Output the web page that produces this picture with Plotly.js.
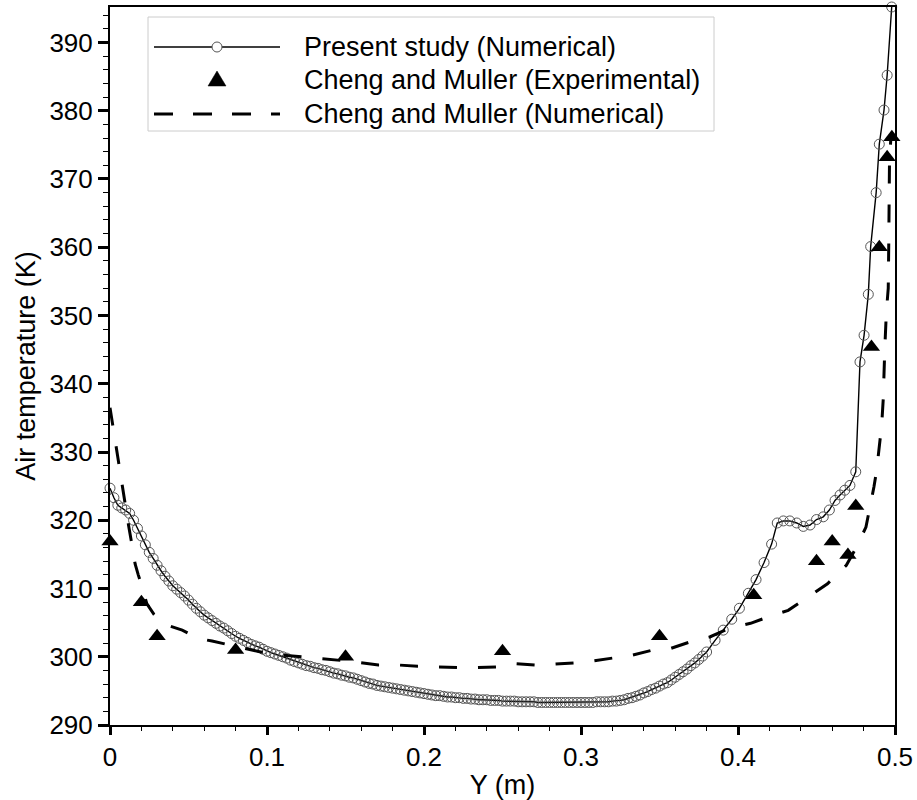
<!DOCTYPE html>
<html>
<head>
<meta charset="utf-8">
<script src="https://cdn.plot.ly/plotly-3.0.1.min.js"></script>
<style>
  html, body { margin: 0; padding: 0; background: #ffffff; }
  #chart { width: 917px; height: 800px; }
</style>
</head>
<body>
<div id="chart"></div>
<script>
// ---------------- DATA ----------------
const seriesNames = [
  "Present study (Numerical)",
  "Cheng and Muller (Experimental)",
  "Cheng and Muller (Numerical)"
];

// Present study (Numerical): position Y (m) and air temperature (K)
const presentY = [
  0, 0.0025, 0.005, 0.0075, 0.01, 0.0125, 0.015, 0.0175, 0.02, 0.0225,
  0.025, 0.0275, 0.03, 0.0325, 0.035, 0.0375, 0.04, 0.0425, 0.045, 0.0475,
  0.05, 0.0525, 0.055, 0.0575, 0.06, 0.0625, 0.065, 0.0675, 0.07, 0.0725,
  0.075, 0.0775, 0.08, 0.0825, 0.085, 0.0875, 0.09, 0.0925, 0.095, 0.0975,
  0.1, 0.1025, 0.105, 0.1075, 0.11, 0.1125, 0.115, 0.1175, 0.12, 0.1225,
  0.125, 0.1275, 0.13, 0.1325, 0.135, 0.1375, 0.14, 0.1425, 0.145, 0.1475,
  0.15, 0.1525, 0.155, 0.1575, 0.16, 0.1625, 0.165, 0.1675, 0.17, 0.1725,
  0.175, 0.1775, 0.18, 0.1825, 0.185, 0.1875, 0.19, 0.1925, 0.195, 0.1975,
  0.2, 0.2025, 0.205, 0.2075, 0.21, 0.2125, 0.215, 0.2175, 0.22, 0.2225,
  0.225, 0.2275, 0.23, 0.2325, 0.235, 0.2375, 0.24, 0.2425, 0.245, 0.2475,
  0.25, 0.2525, 0.255, 0.2575, 0.26, 0.2625, 0.265, 0.2675, 0.27, 0.2725,
  0.275, 0.2775, 0.28, 0.2825, 0.285, 0.2875, 0.29, 0.2925, 0.295, 0.2975,
  0.3, 0.3025, 0.305, 0.3075, 0.31, 0.3125, 0.315, 0.3175, 0.32, 0.3225,
  0.325, 0.3275, 0.33, 0.3325, 0.335, 0.3375, 0.34, 0.3425, 0.345, 0.3475,
  0.35, 0.3525, 0.355, 0.3575, 0.36, 0.3625, 0.365, 0.3675, 0.37, 0.3725,
  0.375, 0.3775, 0.38,
  0.3854, 0.3906, 0.396, 0.4009, 0.4066, 0.4115, 0.4166, 0.4214, 0.425, 0.4289,
  0.433, 0.4374, 0.4416, 0.4459, 0.45, 0.4543, 0.4582, 0.4618, 0.465, 0.468,
  0.4713, 0.475, 0.4777, 0.4803, 0.483, 0.4845, 0.488, 0.49, 0.493, 0.495,
  0.4979
];
const presentT = [
  324.7, 323.3, 322.2, 321.8, 321.5, 321.0, 320.0, 318.8, 317.7, 316.4,
  315.3, 314.4, 313.4, 312.6, 311.8, 311.1, 310.4, 309.9, 309.4, 308.9,
  308.3, 307.7, 307.1, 306.6, 306.1, 305.7, 305.3, 304.9, 304.5, 304.2,
  303.8, 303.4, 303.0, 302.7, 302.4, 302.1, 301.8, 301.6, 301.4, 301.1,
  300.8, 300.6, 300.4, 300.2, 300.0, 299.8, 299.5, 299.3, 299.1, 298.9,
  298.7, 298.6, 298.4, 298.3, 298.1, 298.0, 297.8, 297.6, 297.5, 297.3,
  297.2, 297.0, 296.9, 296.7, 296.5, 296.3, 296.1, 296.0, 295.8, 295.7,
  295.6, 295.5, 295.4, 295.3, 295.2, 295.1, 295.0, 294.9, 294.8, 294.7,
  294.6, 294.5, 294.4, 294.3, 294.3, 294.2, 294.1, 294.1, 294.0, 294.0,
  293.9, 293.9, 293.8, 293.8, 293.7, 293.7, 293.7, 293.6, 293.6, 293.6,
  293.5, 293.5, 293.5, 293.5, 293.4, 293.4, 293.4, 293.4, 293.4, 293.3,
  293.3, 293.3, 293.3, 293.3, 293.3, 293.3, 293.3, 293.3, 293.3, 293.3,
  293.3, 293.3, 293.3, 293.3, 293.4, 293.4, 293.4, 293.4, 293.5, 293.5,
  293.6, 293.7, 293.9, 294.0, 294.2, 294.4, 294.7, 294.9, 295.2, 295.4,
  295.7, 296.0, 296.2, 296.6, 297.0, 297.4, 297.8, 298.2, 298.7, 299.1,
  299.6, 300.1, 300.7,
  302.4, 303.9, 305.5, 307.1, 309.3, 311.3, 313.8, 316.5, 319.6, 319.9,
  319.9, 319.6, 319.1, 319.3, 320.1, 320.5, 321.5, 322.9, 323.7, 324.4,
  325.1, 327.1, 343.2, 347.1, 353.1, 360.1, 368.0, 375.1, 380.1, 385.2,
  395.2
];

// Cheng and Muller (Experimental)
const expY = [0, 0.02, 0.03, 0.08, 0.15, 0.25, 0.35, 0.41, 0.45, 0.46, 0.47, 0.475, 0.485, 0.49, 0.495, 0.498];
const expT = [316.9, 308.0, 303.0, 301.0, 300.0, 300.8, 303.0, 309.0, 314.0, 316.9, 314.9, 322.1, 345.4, 360.0, 373.2, 376.1];

// Cheng and Muller (Numerical)
const cmNumY = [
  0, 0.002, 0.004, 0.006, 0.008, 0.010, 0.012, 0.014, 0.016, 0.018,
  0.020, 0.0234, 0.028, 0.033, 0.040, 0.046, 0.052, 0.058, 0.065, 0.071,
  0.081, 0.096, 0.107, 0.121, 0.133, 0.15, 0.171, 0.183, 0.196, 0.208,
  0.222, 0.233, 0.246, 0.257, 0.271, 0.282, 0.296, 0.308, 0.321, 0.332,
  0.346, 0.357, 0.371, 0.382, 0.395, 0.408, 0.420, 0.432, 0.445, 0.457,
  0.469, 0.4756, 0.4815, 0.484, 0.4866, 0.4883, 0.490, 0.4915, 0.4925, 0.493,
  0.4935, 0.4945, 0.4957, 0.496, 0.4962, 0.4965, 0.4975
];
const cmNumT = [
  336.5, 333.5, 330.5, 327.6, 324.6, 321.6, 319.0, 316.4, 313.6, 312.0,
  310.6, 307.8, 306.2, 304.9, 304.3, 303.9, 303.2, 302.6, 302.3, 302.0,
  301.5, 300.7, 300.3, 300.0, 299.8, 299.4, 298.8, 298.8, 298.6, 298.5,
  298.4, 298.4, 298.5, 299.0, 298.8, 298.9, 299.1, 299.4, 299.8, 300.2,
  301.0, 301.2, 302.3, 302.9, 304.2, 304.9, 305.9, 306.8, 308.8, 310.7,
  313.4, 316.1, 319.0, 321.7, 324.9, 327.3, 331.0, 333.9, 337.7, 342.3,
  345.2, 350.5, 354.0, 360.0, 366.0, 372.7, 376.5
];

const xTickVals = [0, 0.1, 0.2, 0.3, 0.4, 0.5];
const xTickText = ["0", "0.1", "0.2", "0.3", "0.4", "0.5"];
const yTickVals = [290, 300, 310, 320, 330, 340, 350, 360, 370, 380, 390];
const yTickText = ["290", "300", "310", "320", "330", "340", "350", "360", "370", "380", "390"];

// ---------------- CHART ----------------
const FONT = "Arial, 'Liberation Sans', Helvetica, sans-serif";
const W = 917, H = 800;
const M = { l: 110, r: 22, t: 7, b: 75 };
const PW = W - M.l - M.r, PH = H - M.t - M.b;
const PX = px => (px - M.l) / PW;       // page pixel -> paper x
const PY = py => (M.t + PH - py) / PH;  // page pixel -> paper y

const traces = [
  {
    x: presentY, y: presentT, name: seriesNames[0],
    type: "scatter", mode: "lines+markers", cliponaxis: false,
    line: { color: "#000000", width: 1.4 },
    marker: { symbol: "circle-open", size: 10, color: "#555555", line: { width: 1, color: "#555555" } },
    showlegend: false
  },
  {
    x: cmNumY, y: cmNumT, name: seriesNames[2],
    type: "scatter", mode: "lines",
    line: { color: "#000000", width: 3, dash: "18px,21px" },
    showlegend: false
  },
  {
    x: expY, y: expT, name: seriesNames[1],
    type: "scatter", mode: "markers", cliponaxis: false,
    marker: { symbol: "triangle-up", size: 15, color: "#000000" },
    showlegend: false
  }
];

// Custom legend (box, symbols, labels) placed like the reference
const rows = [47, 80, 114];
const symX0 = 154, symX1 = 280, symC = 217, textX = 302;
const shapes = [
  { type: "rect", xref: "paper", yref: "paper", x0: PX(148), x1: PX(714), y0: PY(17), y1: PY(131),
    line: { color: "#cccccc", width: 1 }, fillcolor: "#ffffff", layer: "above" },
  { type: "line", xref: "paper", yref: "paper", x0: PX(symX0), x1: PX(symX1), y0: PY(rows[0]), y1: PY(rows[0]),
    line: { color: "#000000", width: 1.4 }, layer: "above" },
  { type: "circle", xref: "paper", yref: "paper", x0: PX(symC - 5), x1: PX(symC + 5), y0: PY(rows[0] + 5), y1: PY(rows[0] - 5),
    line: { color: "#555555", width: 1 }, fillcolor: "#ffffff", layer: "above" },
  { type: "path", xref: "paper", yref: "paper",
    path: "M" + PX(symC - 9) + "," + PY(rows[1] + 6) + " L" + PX(symC + 9) + "," + PY(rows[1] + 6) +
          " L" + PX(symC) + "," + PY(rows[1] - 9) + " Z",
    line: { color: "#000000", width: 0.5 }, fillcolor: "#000000", layer: "above" },
  { type: "line", xref: "paper", yref: "paper", x0: PX(symX0), x1: PX(symX1), y0: PY(rows[2]), y1: PY(rows[2]),
    line: { color: "#000000", width: 3, dash: "19px,20px" }, layer: "above" }
];
const annotations = seriesNames.map((name, i) => ({
  xref: "paper", yref: "paper", x: PX(textX), y: PY(rows[i]),
  xanchor: "left", yanchor: "middle", showarrow: false,
  text: name, font: { family: FONT, size: 27, color: "#000000" }
}));

const layout = {
  width: W, height: H,
  margin: M,
  paper_bgcolor: "#ffffff", plot_bgcolor: "#ffffff",
  font: { family: FONT, color: "#000000" },
  showlegend: false,
  xaxis: {
    range: [0, 0.5], tickmode: "array", tickvals: xTickVals, ticktext: xTickText,
    ticks: "outside", ticklen: 8, tickwidth: 3, tickcolor: "#000000",
    minor: { dtick: 0.02, tick0: 0, ticks: "outside", ticklen: 4, tickwidth: 1, tickcolor: "#000000", showgrid: false },
    showline: true, linewidth: 2, linecolor: "#000000", mirror: true,
    showgrid: false, zeroline: false,
    tickfont: { family: FONT, size: 26, color: "#000000" },
    title: { text: "Y (m)", font: { family: FONT, size: 27, color: "#000000" }, standoff: 8 }
  },
  yaxis: {
    range: [290, 395.2], tickmode: "array", tickvals: yTickVals, ticktext: yTickText,
    ticks: "outside", ticklen: 10, tickwidth: 3, tickcolor: "#000000",
    minor: { dtick: 2, tick0: 290, ticks: "outside", ticklen: 5, tickwidth: 1, tickcolor: "#000000", showgrid: false },
    showline: true, linewidth: 2, linecolor: "#000000", mirror: true,
    showgrid: false, zeroline: false,
    tickfont: { family: FONT, size: 26, color: "#000000" },
    title: { text: "Air temperature (K)", font: { family: FONT, size: 27, color: "#000000" }, standoff: 6 }
  },
  shapes: shapes,
  annotations: annotations
};

Plotly.newPlot("chart", traces, layout, { displayModeBar: false, staticPlot: true });
</script>
</body>
</html>
